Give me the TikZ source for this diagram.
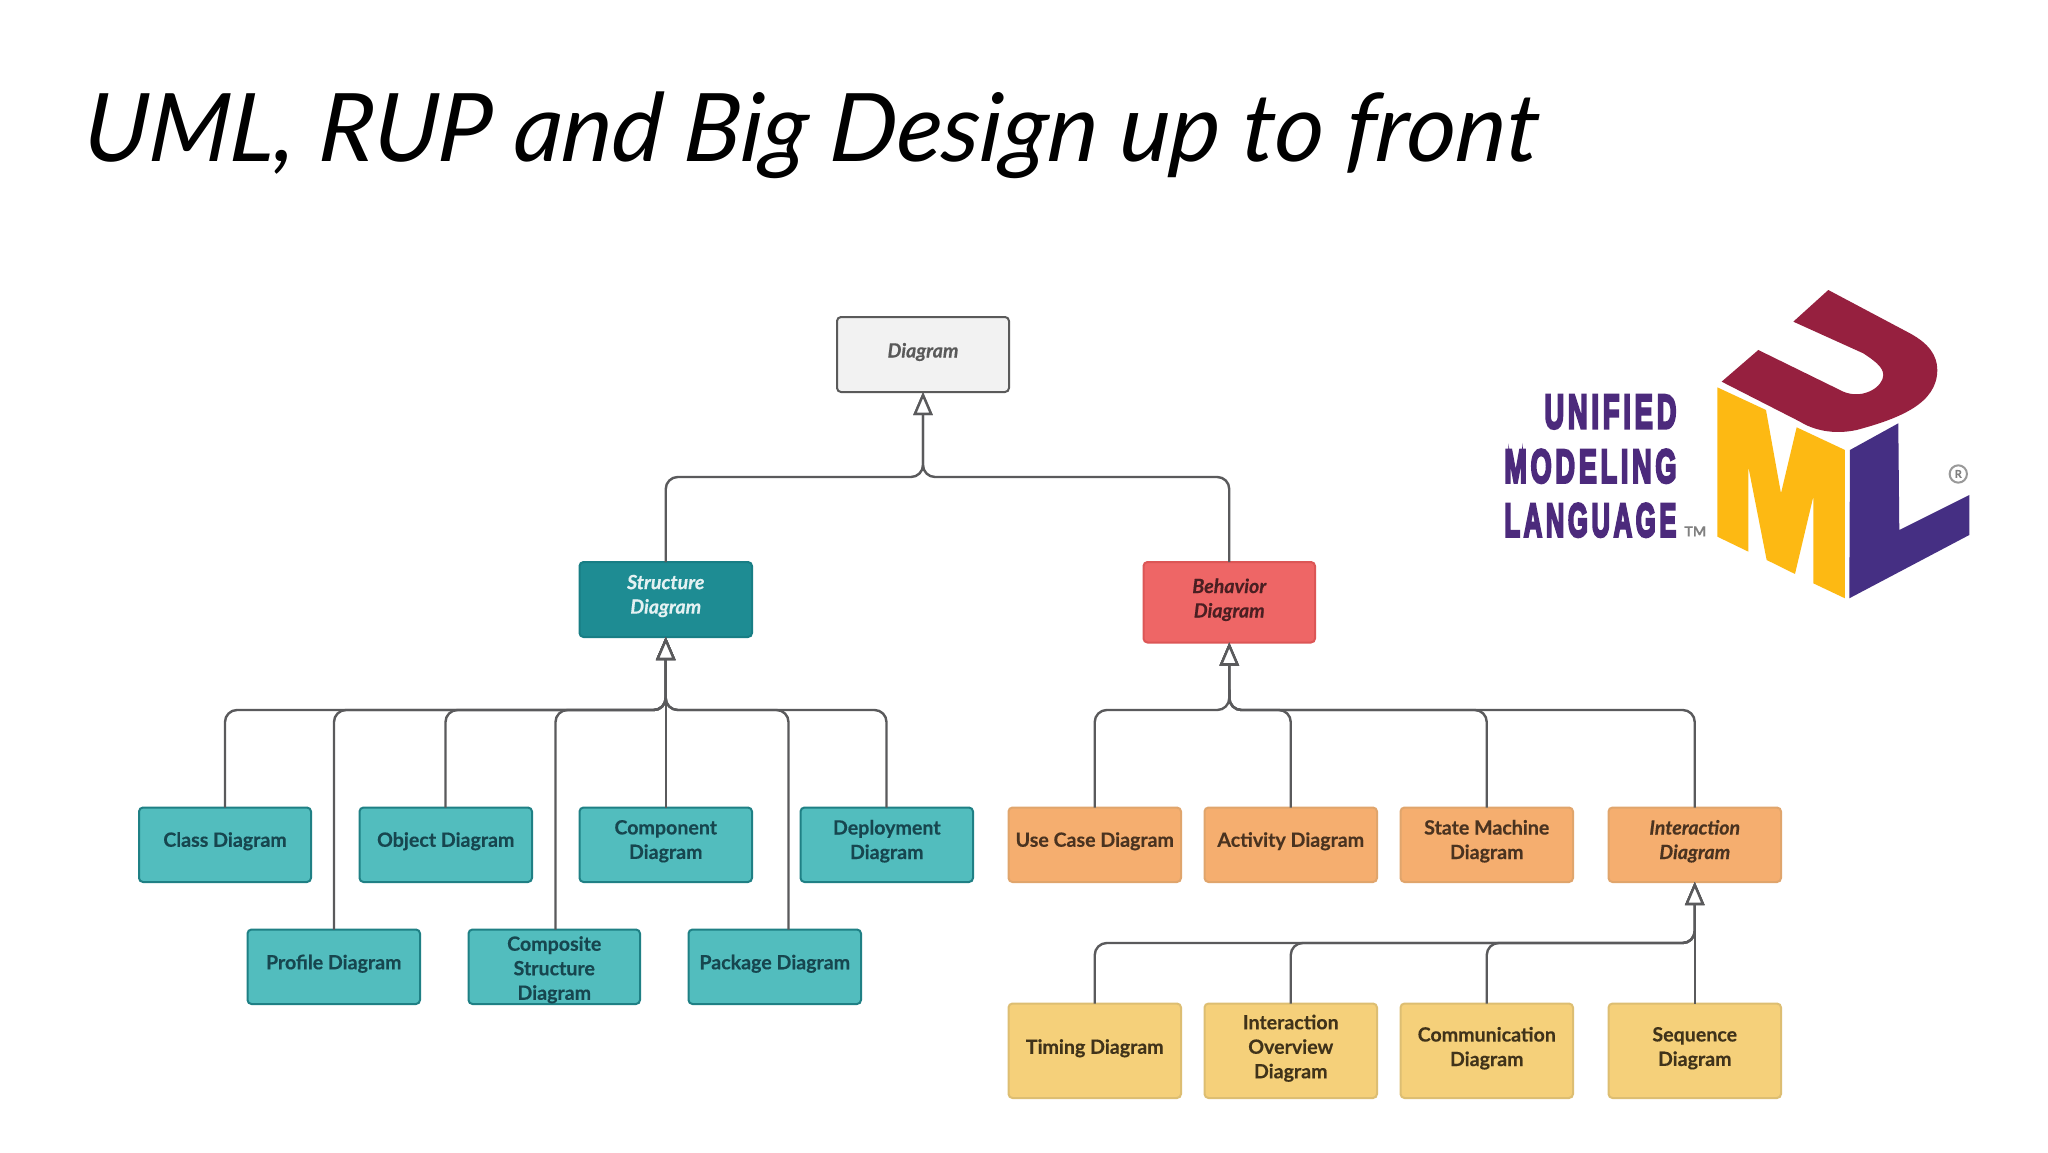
\documentclass[tikz,border=0pt]{standalone}
\usepackage{fontspec}
\usepackage{graphicx}
\usetikzlibrary{arrows.meta}
\setmainfont{Lato Bold}[ItalicFont={Lato Bold Italic},FakeBold=0.35]
\newfontfamily\titlefont{Lato Italic}[FakeSlant=0.08]
\newfontfamily\logofont{Liberation Sans Bold}[LetterSpace=14,FakeBold=6]
\definecolor{tealfill}{HTML}{52BDBE}
\definecolor{tealline}{HTML}{1F8085}
\definecolor{tealtext}{HTML}{17464F}
\definecolor{darkteal}{HTML}{1E8C93}
\definecolor{darkline}{HTML}{187E85}
\definecolor{redfill}{HTML}{EE6666}
\definecolor{redline}{HTML}{DC5656}
\definecolor{redtext}{HTML}{4A1F22}
\definecolor{orangefill}{HTML}{F5AE6F}
\definecolor{orangeline}{HTML}{E0A56C}
\definecolor{orangetext}{HTML}{4A3320}
\definecolor{yellowfill}{HTML}{F5D07A}
\definecolor{yellowline}{HTML}{DDBE72}
\definecolor{yellowtext}{HTML}{40331A}
\definecolor{greyfill}{HTML}{F2F2F2}
\definecolor{greyline}{HTML}{5A5A5A}
\definecolor{conncol}{HTML}{5A5A5C}
\definecolor{umlred}{HTML}{96203F}
\definecolor{umlyellow}{HTML}{FDB913}
\definecolor{umlpurple}{HTML}{452F83}
\definecolor{umltext}{HTML}{4C2A7C}
\tikzset{
 boxbase/.style={rectangle,rounded corners=4pt,line width=2pt,inner sep=0pt,outer sep=0pt},
 rootbox/.style={boxbase,draw=greyline,fill=greyfill},
 darkbox/.style={boxbase,draw=darkline,fill=darkteal},
 redbox/.style={boxbase,draw=redline,fill=redfill},
 tealbox/.style={boxbase,draw=tealline,fill=tealfill},
 orangebox/.style={boxbase,draw=orangeline,fill=orangefill},
 yellowbox/.style={boxbase,draw=yellowline,fill=yellowfill},
 label base/.style={align=center,font=\fontsize{19.6}{24.5}\selectfont,inner sep=0pt},
 rootlabel/.style={label base,text=greyline,font=\fontsize{19.6}{24.5}\selectfont\itshape},
 darklabel/.style={label base,text=white!88!darkteal,font=\fontsize{19.6}{24.5}\selectfont\itshape},
 redlabel/.style={label base,text=redtext,font=\fontsize{19.6}{24.5}\selectfont\itshape},
 teallabel/.style={label base,text=tealtext},
 orangelabel/.style={label base,text=orangetext},
 orangeitlabel/.style={label base,text=orangetext,font=\fontsize{19.6}{24.5}\selectfont\itshape},
 yellowlabel/.style={label base,text=yellowtext},
 conn/.style={draw=conncol,line width=2.4pt,rounded corners=12pt},
 inherit/.style={conn,-{Triangle[open,length=23pt,width=19pt,line width=2.4pt,fill=white]}},
 logoword/.style={anchor=north east,inner sep=0pt,text=umltext},
}
% name, x1, x2, y1, y2, box style, label style, label dy, text
\newcommand{\umlbox}[9]{%
  \node[#6,minimum width={#3pt-#2pt},minimum height={#5pt-#4pt}] (#1) at ({(#2+#3)/2},{(#4+#5)/2}) {};
  \node[#7] (#1txt) at ([yshift=#8pt]#1.center) {#9};
}
\begin{document}
\begin{tikzpicture}[x=1pt,y=-1pt]
\useasboundingbox (0,0) rectangle (2048,1152);
\fill[white] (0,0) rectangle (2048,1152);
\node[anchor=base west,inner sep=0pt] (title) at (82,161) {\resizebox{1455pt}{!}{\titlefont\fontsize{116}{130}\selectfont UML, RUP and Big Design up to front}};

\umlbox{diagram}{837}{1009}{317}{392}{rootbox}{rootlabel}{2.5}{Diagram}
\umlbox{structure}{579.5}{752}{562}{637}{darkbox}{darklabel}{3.5}{Structure\\Diagram}
\umlbox{behavior}{1143.5}{1315}{562}{642.5}{redbox}{redlabel}{2.5}{Behavior\\Diagram}
\umlbox{class}{139}{311}{807.5}{882}{tealbox}{teallabel}{3.5}{Class Diagram}
\umlbox{object}{359.5}{532}{807.5}{882}{tealbox}{teallabel}{3.5}{Object Diagram}
\umlbox{component}{579.5}{752}{807.5}{882}{tealbox}{teallabel}{3.5}{Component\\Diagram}
\umlbox{deployment}{800.5}{973}{807.5}{882}{tealbox}{teallabel}{3.5}{Deployment\\Diagram}
\umlbox{profile}{247.5}{420}{929.5}{1004}{tealbox}{teallabel}{3}{Profile Diagram}
\umlbox{composite}{468.5}{640}{929.5}{1004}{tealbox}{teallabel}{-3}{Composite\\Structure\\Diagram}
\umlbox{package}{688.5}{861}{929.5}{1004}{tealbox}{teallabel}{3}{Package Diagram}
\umlbox{usecase}{1008.5}{1181}{807.5}{882}{orangebox}{orangelabel}{3.5}{Use Case Diagram}
\umlbox{activity}{1204.5}{1377}{807.5}{882}{orangebox}{orangelabel}{3.5}{Activity Diagram}
\umlbox{statem}{1400.5}{1573}{807.5}{882}{orangebox}{orangelabel}{3.5}{State Machine\\Diagram}
\umlbox{interaction}{1608.5}{1781}{807.5}{882}{orangebox}{orangeitlabel}{3.5}{Interaction\\Diagram}
\umlbox{timing}{1008.5}{1181}{1003.5}{1098}{yellowbox}{yellowlabel}{2.5}{Timing Diagram}
\umlbox{overview}{1204.5}{1377}{1003.5}{1098}{yellowbox}{yellowlabel}{2.5}{Interaction\\Overview\\Diagram}
\umlbox{commun}{1400.5}{1573}{1003.5}{1098}{yellowbox}{yellowlabel}{2.5}{Communication\\Diagram}
\umlbox{sequence}{1608.5}{1781}{1003.5}{1098}{yellowbox}{yellowlabel}{2.5}{Sequence\\Diagram}

% top level
\draw[inherit] (structure.north) |- (923,477) -- (diagram.south);
\draw[inherit] (behavior.north) |- (923,477) -- (diagram.south);
% structure family
\foreach \child/\xx in {class/225,profile/334,object/445.5,composite/555.5,package/788.5,deployment/886.5}
  \draw[inherit] (\child.north -| \xx,0) -- (\xx,710) -- (665.7,710) -- (structure.south);
\draw[inherit] (component.north) -- (structure.south);
% behavior family
\foreach \child in {usecase,activity,statem,interaction}
  \draw[inherit] (\child.north) |- (1229.3,710) -- (behavior.south);
% interaction family
\foreach \child in {timing,overview,commun}
  \draw[inherit] (\child.north) |- (1694.7,943) -- (interaction.south);
\draw[inherit] (sequence.north) -- (interaction.south);

% logo
\begin{scope}[shift={(1480,270)},x=0.3333pt,y=-0.3333pt]
\fill[umlyellow] (712,352) -- (858,420) -- (903,670) -- (950,472) -- (1095,540) -- (1095,985) -- (1000,940) -- (1000,680) -- (945,912) -- (860,870) -- (805,590) -- (805,845) -- (712,800) -- cycle;
\fill[umlpurple] (1110,540) -- (1255,460) -- (1258,780) -- (1468,675) -- (1468,795) -- (1108,985) -- cycle;
\fill[umlred] (725,335) -- (835,240) -- (1090,365) .. controls (1150,390) and (1210,350) .. (1210,315) .. controls (1210,290) and (1180,270) .. (1150,250) -- (940,155) -- (1045,60) -- (1290,190) .. controls (1345,220) and (1372,255) .. (1372,300) .. controls (1372,400) and (1260,445) .. (1130,480) .. controls (1060,495) and (1000,480) .. (960,455) -- cycle;
\draw[gray!80,line width=2pt] (1435,612) circle (26);
\node[text=gray,inner sep=0pt,font=\fontsize{11}{11}\selectfont] (regmark) at (1435,612) {R};
\node[logoword] (unified) at (590,375) {\resizebox{132pt}{33pt}{\logofont UNIFIED}};
\node[logoword] (modeling) at (590,538) {\resizebox{172pt}{33pt}{\logofont MODELING}};
\node[logoword] (language) at (590,700) {\resizebox{172pt}{33pt}{\logofont LANGUAGE}};
\node[anchor=south west,inner sep=0pt,text=gray,font=\fontsize{14}{14}\selectfont] (tm) at (613,800) {TM};
\end{scope}
\end{tikzpicture}
\end{document}
